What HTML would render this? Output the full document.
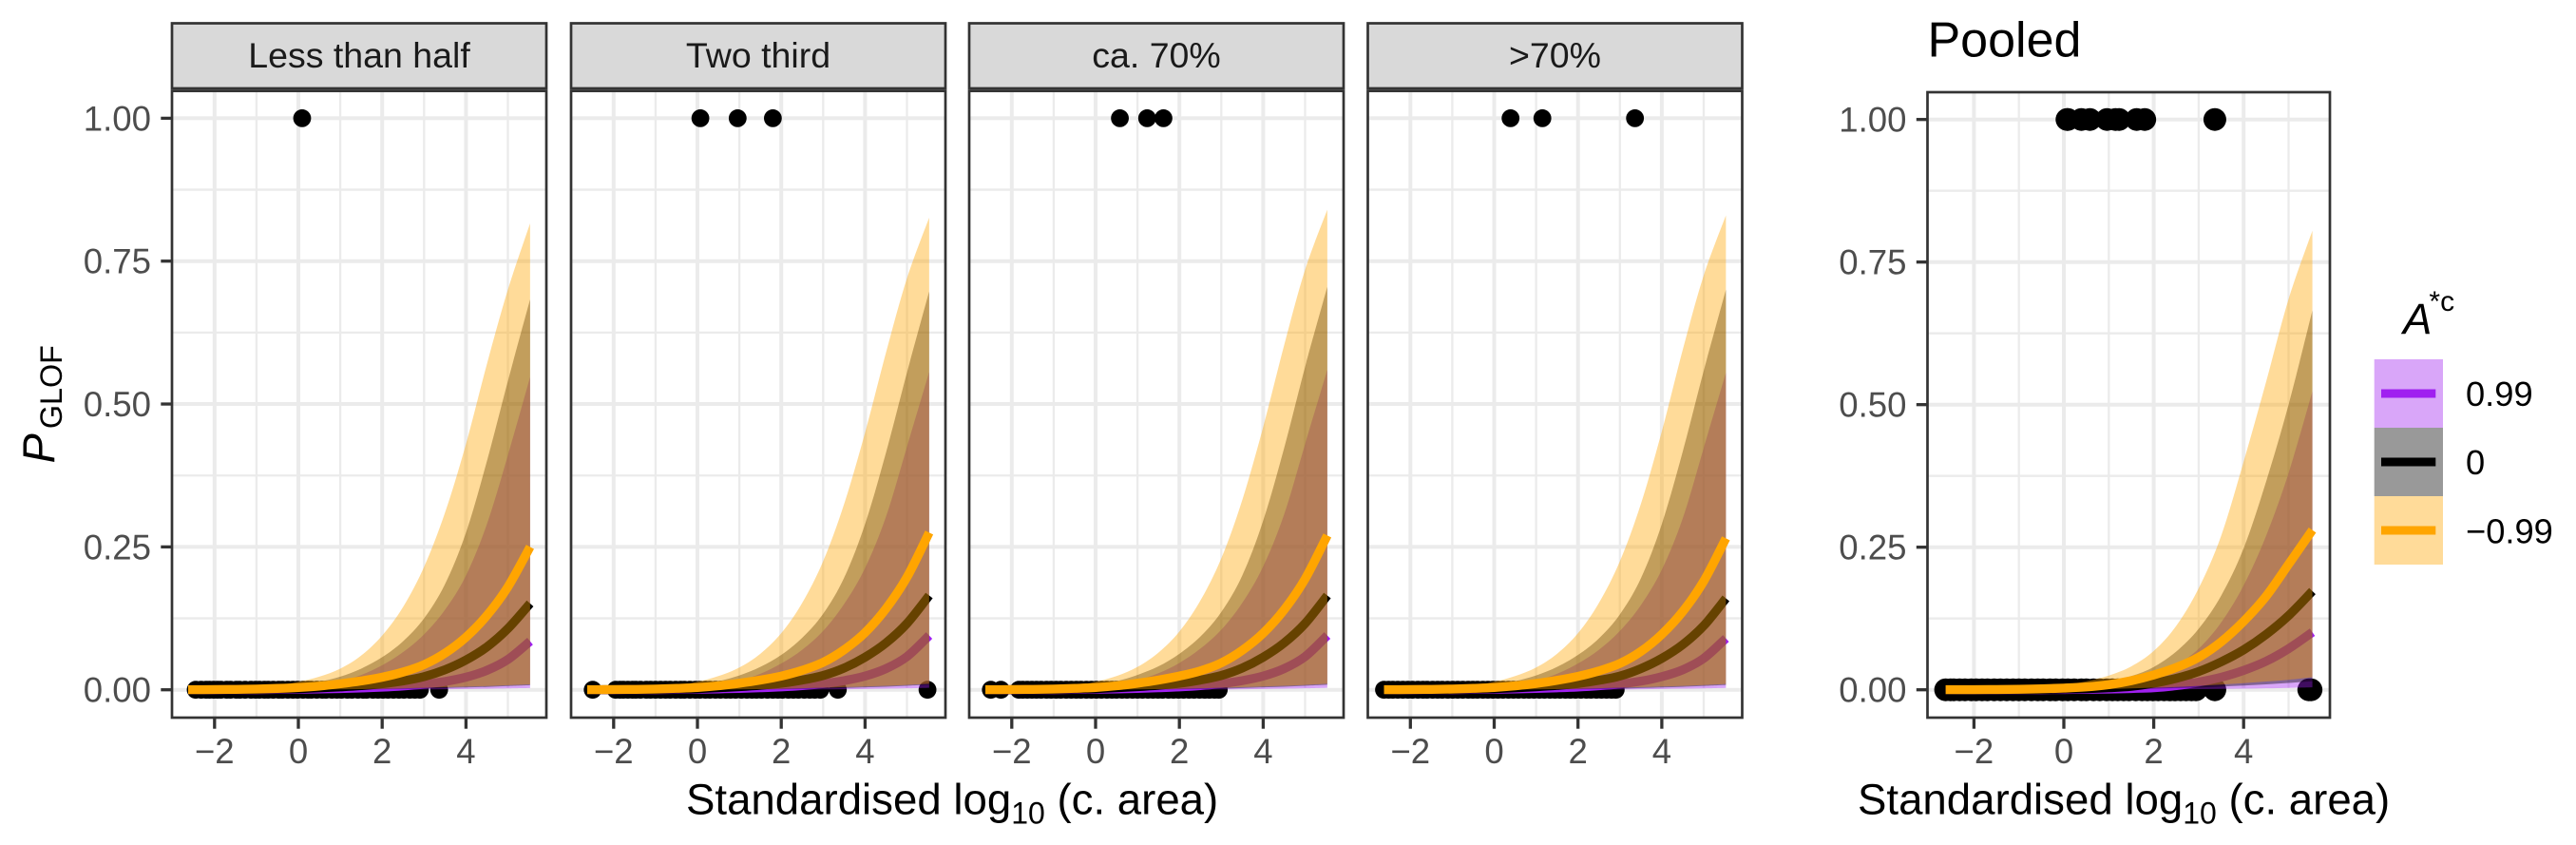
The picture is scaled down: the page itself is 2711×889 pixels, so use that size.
<!DOCTYPE html>
<html lang="en">
<head>
<meta charset="utf-8">
<title>GLOF probability by catchment area</title>
<style>
html,body{margin:0;padding:0;background:#fff;width:2711px;height:889px;overflow:hidden}
svg{display:block;font-family:"Liberation Sans",Arial,sans-serif}
</style>
</head>
<body>
<svg id="chart" width="2711" height="889" viewBox="0 0 2711 889" xmlns="http://www.w3.org/2000/svg">
  <rect x="0" y="0" width="2711" height="889" fill="#ffffff"/>
  <g id="panels"></g>

  <g>
    <rect x="181" y="24.5" width="394" height="68.5" fill="#d9d9d9" stroke="#333333" stroke-width="2.7"/>
    <text x="378" y="71" font-size="37.5" fill="#1a1a1a" text-anchor="middle">Less than half</text>
    <rect x="601" y="24.5" width="394" height="68.5" fill="#d9d9d9" stroke="#333333" stroke-width="2.7"/>
    <text x="798" y="71" font-size="37.5" fill="#1a1a1a" text-anchor="middle">Two third</text>
    <rect x="1020" y="24.5" width="394" height="68.5" fill="#d9d9d9" stroke="#333333" stroke-width="2.7"/>
    <text x="1217" y="71" font-size="37.5" fill="#1a1a1a" text-anchor="middle">ca. 70%</text>
    <rect x="1439.5" y="24.5" width="394" height="68.5" fill="#d9d9d9" stroke="#333333" stroke-width="2.7"/>
    <text x="1636.5" y="71" font-size="37.5" fill="#1a1a1a" text-anchor="middle">&gt;70%</text>
  </g>

  <text x="2028.5" y="59.5" font-size="52" fill="#000000">Pooled</text>

  <text transform="translate(57,487.5) rotate(-90)" fill="#000000"><tspan font-size="47" font-style="italic">P</tspan><tspan font-size="32.3" dx="5" dy="8">GLOF</tspan></text>

  <text x="722" y="856.5" font-size="45.6" fill="#000000">Standardised log<tspan font-size="32" dy="10">10</tspan><tspan dy="-10"> (c. area)</tspan></text>
  <text x="1955" y="856.5" font-size="45.6" fill="#000000">Standardised log<tspan font-size="32" dy="10">10</tspan><tspan dy="-10"> (c. area)</tspan></text>

  <g>
    <text x="2529" y="351" font-size="45.6" fill="#000000"><tspan font-style="italic">A</tspan><tspan font-size="30" dy="-24" dx="-3">*c</tspan></text>
    <rect x="2498.7" y="378" width="72.3" height="72" fill="#a020f0" fill-opacity="0.4"/>
    <line x1="2506" x2="2563.3" y1="414" y2="414" stroke="#a020f0" stroke-width="9"/>
    <text x="2595" y="427" font-size="36.3" fill="#000000">0.99</text>
    <rect x="2498.7" y="450" width="72.3" height="72" fill="#000000" fill-opacity="0.4"/>
    <line x1="2506" x2="2563.3" y1="486" y2="486" stroke="#000000" stroke-width="9"/>
    <text x="2595" y="499" font-size="36.3" fill="#000000">0</text>
    <rect x="2498.7" y="522" width="72.3" height="72" fill="#ffa500" fill-opacity="0.4"/>
    <line x1="2506" x2="2563.3" y1="558" y2="558" stroke="#ffa500" stroke-width="9"/>
    <text x="2595" y="571.5" font-size="36.3" fill="#000000">−0.99</text>
  </g>
</svg>

<script>
// ---- axis breaks and tick labels ----
const xMajorTicks = [-2, 0, 2, 4];
const xMinorBreaks = [-1, 1, 3, 5];
const xTickLabels = ['−2', '0', '2', '4'];
const yMajorTicks = [0, 0.25, 0.5, 0.75, 1];
const yMinorBreaks = [0.125, 0.375, 0.625, 0.875];
const yTickLabels = ['0.00', '0.25', '0.50', '0.75', '1.00'];

// ---- shared x values of the fitted curves ----
const curveX = [-2.63, -2, -1.5, -1, -0.5, 0, 0.5, 1, 1.5, 2, 2.5, 3, 3.5, 4, 4.5, 5, 5.53];

// ---- observed points (standardised log10 area), outcome = 1 ----
const lessThanHalfGlofX = [0.09];
const twoThirdGlofX = [0.07, 0.96, 1.8];
const ca70GlofX = [0.58, 1.23, 1.62];
const over70GlofX = [0.39, 1.15, 3.36];
const pooledGlofX = [0.07, 0.09, 0.39, 0.58, 0.96, 1.15, 1.23, 1.62, 1.8, 3.36];

// ---- observed points, outcome = 0 ----
const lessThanHalfNoGlofX = [-2.45, -2.32, -2.2, -2.12, -2.02, -1.93, -1.85, -1.71, -1.62, -1.48, -1.4, -1.27, -1.13, -1.02, -0.93, -0.81, -0.72, -0.6, -0.47, -0.38, -0.25, -0.13, -0.02, 0.11, 0.23, 0.31, 0.44, 0.57, 0.66, 0.8, 0.92, 1.03, 1.17, 1.28, 1.42, 1.55, 1.63, 1.78, 1.9, 2.02, 2.14, 2.27, 2.4, 2.52, 2.66, 2.78, 2.9, 3.36];
const twoThirdNoGlofX = [-2.5, -1.95, -1.85, -1.77, -1.66, -1.55, -1.47, -1.36, -1.22, -1.12, -1.0, -0.88, -0.76, -0.65, -0.52, -0.4, -0.31, -0.18, -0.05, 0.06, 0.19, 0.3, 0.43, 0.55, 0.68, 0.79, 0.91, 1.05, 1.18, 1.3, 1.41, 1.53, 1.67, 1.8, 1.92, 2.03, 2.17, 2.29, 2.41, 2.55, 2.68, 2.8, 2.93, 3.35, 5.49];
const ca70NoGlofX = [-2.5, -2.26, -1.83, -1.74, -1.63, -1.52, -1.41, -1.3, -1.17, -1.06, -0.94, -0.83, -0.7, -0.58, -0.46, -0.35, -0.22, -0.1, 0.02, 0.14, 0.27, 0.39, 0.5, 0.63, 0.75, 0.88, 1.0, 1.12, 1.25, 1.37, 1.49, 1.6, 1.74, 1.86, 1.98, 2.1, 2.23, 2.35, 2.48, 2.6, 2.72, 2.84, 2.94];
const over70NoGlofX = [-2.63, -2.52, -2.42, -2.3, -2.18, -2.06, -1.95, -1.82, -1.7, -1.6, -1.47, -1.35, -1.24, -1.11, -0.99, -0.87, -0.75, -0.62, -0.51, -0.4, -0.27, -0.15, -0.03, 0.09, 0.21, 0.34, 0.46, 0.58, 0.71, 0.83, 0.95, 1.08, 1.2, 1.33, 1.45, 1.57, 1.7, 1.82, 1.94, 2.07, 2.2, 2.31, 2.44, 2.56, 2.68, 2.8, 2.9];
const pooledNoGlofX = [-2.63, -2.52, -2.45, -2.32, -2.2, -2.06, -1.95, -1.82, -1.7, -1.55, -1.41, -1.27, -1.13, -1.0, -0.87, -0.72, -0.58, -0.46, -0.31, -0.18, -0.03, 0.09, 0.23, 0.39, 0.5, 0.66, 0.8, 0.95, 1.08, 1.2, 1.33, 1.45, 1.6, 1.74, 1.86, 1.98, 2.1, 2.23, 2.35, 2.48, 2.6, 2.72, 2.84, 2.94, 3.36, 5.45, 5.5];

// ---- panel 1: Less than half ----
const p1OrangeUpper = [0.0008, 0.0015, 0.0025, 0.004, 0.0075, 0.014, 0.023, 0.037, 0.06, 0.095, 0.145, 0.215, 0.31, 0.43, 0.57, 0.7, 0.816];
const p1OrangeLine = [0.0002, 0.0004, 0.0007, 0.0013, 0.0024, 0.004, 0.0065, 0.0105, 0.0155, 0.022, 0.031, 0.044, 0.064, 0.092, 0.13, 0.18, 0.25];
const p1OrangeLower = [0, 0, 0, 0, 0.0001, 0.0003, 0.0005, 0.0008, 0.0012, 0.0018, 0.0025, 0.0035, 0.0045, 0.0055, 0.0065, 0.008, 0.0095];
const p1BlackUpper = [0.0004, 0.0008, 0.0015, 0.0025, 0.0045, 0.008, 0.014, 0.023, 0.037, 0.057, 0.085, 0.125, 0.185, 0.275, 0.4, 0.54, 0.683];
const p1BlackLine = [0.0001, 0.0002, 0.0003, 0.0006, 0.0012, 0.002, 0.0033, 0.005, 0.0072, 0.0105, 0.0155, 0.023, 0.035, 0.052, 0.075, 0.107, 0.151];
const p1BlackLower = [0, 0, 0, 0, 0, 0.0001, 0.0002, 0.0004, 0.0007, 0.001, 0.0015, 0.002, 0.003, 0.004, 0.005, 0.0065, 0.008];
const p1PurpleUpper = [0.0002, 0.0004, 0.0007, 0.0012, 0.002, 0.004, 0.008, 0.015, 0.026, 0.043, 0.066, 0.097, 0.14, 0.2, 0.29, 0.41, 0.547];
const p1PurpleLine = [0.00005, 0.0001, 0.0002, 0.0003, 0.0006, 0.001, 0.0015, 0.0022, 0.0032, 0.0046, 0.0067, 0.0098, 0.0145, 0.022, 0.034, 0.053, 0.085];
const p1PurpleLower = [0, 0, 0, 0, 0, 0, 0, 0.0001, 0.0002, 0.0003, 0.0005, 0.0007, 0.001, 0.0014, 0.0018, 0.0024, 0.003];

// ---- panel 2: Two third ----
const p2OrangeUpper = [0.0008, 0.0015, 0.0025, 0.004, 0.0075, 0.014, 0.024, 0.039, 0.063, 0.099, 0.152, 0.225, 0.325, 0.45, 0.59, 0.72, 0.826];
const p2OrangeLine = [0.0002, 0.0004, 0.0007, 0.0013, 0.0025, 0.004, 0.007, 0.0115, 0.017, 0.024, 0.034, 0.048, 0.07, 0.1, 0.142, 0.197, 0.275];
const p2OrangeLower = [0, 0, 0, 0, 0.0001, 0.0003, 0.0005, 0.0008, 0.0012, 0.0018, 0.0026, 0.0036, 0.0047, 0.0058, 0.007, 0.0085, 0.0105];
const p2BlackUpper = [0.0004, 0.0008, 0.0015, 0.0025, 0.0045, 0.008, 0.015, 0.025, 0.04, 0.061, 0.091, 0.133, 0.196, 0.29, 0.415, 0.555, 0.697];
const p2BlackLine = [0.0001, 0.0002, 0.0003, 0.0006, 0.0012, 0.002, 0.0035, 0.0055, 0.008, 0.0115, 0.017, 0.025, 0.038, 0.057, 0.082, 0.116, 0.165];
const p2BlackLower = [0, 0, 0, 0, 0, 0.0001, 0.0002, 0.0004, 0.0007, 0.001, 0.0015, 0.002, 0.003, 0.0042, 0.0054, 0.007, 0.0088];
const p2PurpleUpper = [0.0002, 0.0004, 0.0007, 0.0012, 0.002, 0.004, 0.009, 0.016, 0.028, 0.046, 0.07, 0.103, 0.15, 0.213, 0.303, 0.425, 0.556];
const p2PurpleLine = [0.00005, 0.0001, 0.0002, 0.0003, 0.0006, 0.001, 0.0016, 0.0024, 0.0035, 0.005, 0.0073, 0.0108, 0.016, 0.024, 0.037, 0.058, 0.095];
const p2PurpleLower = [0, 0, 0, 0, 0, 0, 0, 0.0001, 0.0002, 0.0003, 0.0005, 0.0007, 0.001, 0.0014, 0.002, 0.0026, 0.0035];

// ---- panel 3: ca. 70% ----
const p3OrangeUpper = [0.0008, 0.0015, 0.0025, 0.004, 0.0075, 0.014, 0.024, 0.04, 0.065, 0.102, 0.156, 0.23, 0.332, 0.46, 0.603, 0.735, 0.84];
const p3OrangeLine = [0.0002, 0.0004, 0.0007, 0.0013, 0.0025, 0.004, 0.007, 0.0115, 0.017, 0.024, 0.033, 0.047, 0.069, 0.099, 0.14, 0.194, 0.27];
const p3OrangeLower = [0, 0, 0, 0, 0.0001, 0.0003, 0.0005, 0.0008, 0.0012, 0.0018, 0.0026, 0.0036, 0.0047, 0.0058, 0.007, 0.0085, 0.0105];
const p3BlackUpper = [0.0004, 0.0008, 0.0015, 0.0025, 0.0045, 0.008, 0.015, 0.026, 0.041, 0.063, 0.093, 0.136, 0.2, 0.296, 0.423, 0.565, 0.705];
const p3BlackLine = [0.0001, 0.0002, 0.0003, 0.0006, 0.0012, 0.002, 0.0035, 0.0055, 0.008, 0.0115, 0.017, 0.025, 0.038, 0.057, 0.082, 0.116, 0.165];
const p3BlackLower = [0, 0, 0, 0, 0, 0.0001, 0.0002, 0.0004, 0.0007, 0.001, 0.0015, 0.002, 0.003, 0.0042, 0.0054, 0.007, 0.0088];
const p3PurpleUpper = [0.0002, 0.0004, 0.0007, 0.0012, 0.002, 0.004, 0.009, 0.017, 0.029, 0.047, 0.072, 0.105, 0.152, 0.216, 0.307, 0.43, 0.56];
const p3PurpleLine = [0.00005, 0.0001, 0.0002, 0.0003, 0.0006, 0.001, 0.0016, 0.0024, 0.0035, 0.005, 0.0073, 0.0108, 0.016, 0.024, 0.037, 0.058, 0.095];
const p3PurpleLower = [0, 0, 0, 0, 0, 0, 0, 0.0001, 0.0002, 0.0003, 0.0005, 0.0007, 0.001, 0.0014, 0.002, 0.0026, 0.0035];

// ---- panel 4: >70% ----
const p4OrangeUpper = [0.0008, 0.0015, 0.0025, 0.004, 0.0075, 0.014, 0.024, 0.039, 0.063, 0.099, 0.152, 0.225, 0.325, 0.452, 0.595, 0.725, 0.83];
const p4OrangeLine = [0.0002, 0.0004, 0.0007, 0.0013, 0.0025, 0.004, 0.0068, 0.011, 0.0165, 0.0235, 0.033, 0.046, 0.067, 0.097, 0.137, 0.19, 0.265];
const p4OrangeLower = [0, 0, 0, 0, 0.0001, 0.0003, 0.0005, 0.0008, 0.0012, 0.0018, 0.0026, 0.0036, 0.0046, 0.0057, 0.0068, 0.0082, 0.01];
const p4BlackUpper = [0.0004, 0.0008, 0.0015, 0.0025, 0.0045, 0.008, 0.015, 0.025, 0.04, 0.061, 0.09, 0.132, 0.195, 0.29, 0.417, 0.558, 0.7];
const p4BlackLine = [0.0001, 0.0002, 0.0003, 0.0006, 0.0012, 0.002, 0.0034, 0.0053, 0.0077, 0.011, 0.0165, 0.024, 0.037, 0.055, 0.079, 0.112, 0.16];
const p4BlackLower = [0, 0, 0, 0, 0, 0.0001, 0.0002, 0.0004, 0.0007, 0.001, 0.0015, 0.002, 0.003, 0.0041, 0.0052, 0.0068, 0.0085];
const p4PurpleUpper = [0.0002, 0.0004, 0.0007, 0.0012, 0.002, 0.004, 0.009, 0.016, 0.028, 0.046, 0.07, 0.103, 0.148, 0.21, 0.3, 0.423, 0.555];
const p4PurpleLine = [0.00005, 0.0001, 0.0002, 0.0003, 0.0006, 0.001, 0.0015, 0.0023, 0.0034, 0.0048, 0.007, 0.0102, 0.015, 0.023, 0.035, 0.055, 0.09];
const p4PurpleLower = [0, 0, 0, 0, 0, 0, 0, 0.0001, 0.0002, 0.0003, 0.0005, 0.0007, 0.001, 0.0014, 0.0019, 0.0025, 0.0033];

// ---- panel 5: Pooled ----
const p5OrangeUpper = [0.0005, 0.001, 0.0015, 0.003, 0.006, 0.009, 0.015, 0.025, 0.041, 0.068, 0.112, 0.178, 0.27, 0.4, 0.54, 0.685, 0.805];
const p5OrangeLine = [0.0002, 0.0003, 0.0005, 0.0009, 0.0017, 0.003, 0.005, 0.009, 0.016, 0.026, 0.039, 0.057, 0.084, 0.12, 0.164, 0.22, 0.28];
const p5OrangeLower = [0, 0, 0, 0.0001, 0.0002, 0.0004, 0.0008, 0.0014, 0.0024, 0.0036, 0.005, 0.0068, 0.009, 0.0115, 0.0145, 0.0175, 0.022];
const p5BlackUpper = [0.0002, 0.0004, 0.0008, 0.0014, 0.0028, 0.005, 0.009, 0.015, 0.024, 0.04, 0.067, 0.107, 0.165, 0.248, 0.365, 0.5, 0.665];
const p5BlackLine = [0.0001, 0.0002, 0.0003, 0.0004, 0.0007, 0.0012, 0.002, 0.0035, 0.006, 0.0115, 0.02, 0.032, 0.049, 0.07, 0.097, 0.13, 0.173];
const p5BlackLower = [0, 0, 0, 0, 0.0001, 0.0002, 0.0004, 0.0007, 0.0012, 0.002, 0.003, 0.004, 0.0056, 0.0074, 0.0095, 0.012, 0.015];
const p5PurpleUpper = [0.0001, 0.0002, 0.0004, 0.0006, 0.0012, 0.002, 0.004, 0.008, 0.014, 0.025, 0.043, 0.072, 0.118, 0.183, 0.27, 0.38, 0.523];
const p5PurpleLine = [0.00005, 0.0001, 0.0001, 0.0002, 0.0003, 0.0005, 0.0008, 0.0013, 0.0022, 0.0036, 0.0072, 0.0135, 0.022, 0.034, 0.05, 0.072, 0.101];
const p5PurpleLower = [0, 0, 0, 0, 0, 0, 0.0001, 0.0002, 0.0003, 0.0005, 0.0008, 0.0011, 0.0015, 0.002, 0.0026, 0.0033, 0.0042];

// ---- layout (pixels, not data) ----
const NS = 'http://www.w3.org/2000/svg';
const panelRoot = document.getElementById('panels');

function svgEl(tag, parent) {
  const el = document.createElementNS(NS, tag);
  parent.appendChild(el);
  return el;
}

function makeXScale(originPx, pxPerUnit) {
  return function (v) { return originPx + v * pxPerUnit; };
}
function makeYScale(zeroPx, pxPerUnit) {
  return function (v) { return zeroPx - v * pxPerUnit; };
}

function smoothSegment(pts) {
  let d = '';
  for (let i = 0; i < pts.length - 1; i++) {
    const p0 = pts[Math.max(i - 1, 0)];
    const p1 = pts[i];
    const p2 = pts[i + 1];
    const p3 = pts[Math.min(i + 2, pts.length - 1)];
    const c1x = p1[0] + (p2[0] - p0[0]) / 6;
    const c1y = p1[1] + (p2[1] - p0[1]) / 6;
    const c2x = p2[0] - (p3[0] - p1[0]) / 6;
    const c2y = p2[1] - (p3[1] - p1[1]) / 6;
    d += 'C' + c1x.toFixed(2) + ' ' + c1y.toFixed(2) + ' ' + c2x.toFixed(2) + ' ' + c2y.toFixed(2) + ' ' + p2[0].toFixed(2) + ' ' + p2[1].toFixed(2);
  }
  return d;
}

function toPoints(xs, ys, sx, sy) {
  return xs.map(function (x, i) { return [sx(x), sy(ys[i])]; });
}

function drawSeries(group, sx, sy, colour, upper, line, lower) {
  const up = toPoints(curveX, upper, sx, sy);
  const lo = toPoints(curveX, lower, sx, sy).reverse();
  const ribbon = svgEl('path', group);
  
  
  ribbon.setAttribute('d', 'M' + up[0][0] + ' ' + up[0][1] + smoothSegment(up) + 'L' + lo[0][0] + ' ' + lo[0][1] + smoothSegment(lo) + 'Z');
  ribbon.setAttribute('fill', colour);
  ribbon.setAttribute('fill-opacity', '0.4');
  const mid = toPoints(curveX, line, sx, sy);
  const path = svgEl('path', group);
  
  
  path.setAttribute('d', 'M' + mid[0][0] + ' ' + mid[0][1] + smoothSegment(mid));
  path.setAttribute('fill', 'none');
  path.setAttribute('stroke', colour);
  path.setAttribute('stroke-width', '9.4');
  path.setAttribute('stroke-linejoin', 'round');
}

function drawPanel(cfg) {
  const g = svgEl('g', panelRoot);
  
  
  const sx = makeXScale(cfg.x0, cfg.xUnit);
  const sy = makeYScale(725.7, cfg.yUnit);

  const bg = svgEl('rect', g);
  
  
  bg.setAttribute('x', cfg.left);
  bg.setAttribute('y', cfg.top);
  bg.setAttribute('width', cfg.right - cfg.left);
  bg.setAttribute('height', cfg.bottom - cfg.top);
  bg.setAttribute('fill', '#ffffff');

  yMinorBreaks.forEach(function (v) {
    const l = svgEl('line', g);
    
    
    l.setAttribute('x1', cfg.left);
    l.setAttribute('x2', cfg.right);
    l.setAttribute('y1', sy(v));
    l.setAttribute('y2', sy(v));
    l.setAttribute('stroke', '#ebebeb');
    l.setAttribute('stroke-width', '2.3');
  });
  xMinorBreaks.forEach(function (v) {
    const l = svgEl('line', g);
    
    
    l.setAttribute('x1', sx(v));
    l.setAttribute('x2', sx(v));
    l.setAttribute('y1', cfg.top);
    l.setAttribute('y2', cfg.bottom);
    l.setAttribute('stroke', '#ebebeb');
    l.setAttribute('stroke-width', '2.3');
  });
  yMajorTicks.forEach(function (v) {
    const l = svgEl('line', g);
    
    
    l.setAttribute('x1', cfg.left);
    l.setAttribute('x2', cfg.right);
    l.setAttribute('y1', sy(v));
    l.setAttribute('y2', sy(v));
    l.setAttribute('stroke', '#ebebeb');
    l.setAttribute('stroke-width', '4');
  });
  xMajorTicks.forEach(function (v) {
    const l = svgEl('line', g);
    
    
    l.setAttribute('x1', sx(v));
    l.setAttribute('x2', sx(v));
    l.setAttribute('y1', cfg.top);
    l.setAttribute('y2', cfg.bottom);
    l.setAttribute('stroke', '#ebebeb');
    l.setAttribute('stroke-width', '4');
  });

  cfg.noGlof.forEach(function (v) {
    const c = svgEl('circle', g);
    
    
    c.setAttribute('cx', sx(v));
    c.setAttribute('cy', sy(0));
    c.setAttribute('r', cfg.dotR);
    c.setAttribute('fill', '#000000');
  });
  cfg.glof.forEach(function (v) {
    const c = svgEl('circle', g);
    
    
    c.setAttribute('cx', sx(v));
    c.setAttribute('cy', sy(1));
    c.setAttribute('r', cfg.dotR);
    c.setAttribute('fill', '#000000');
  });

  drawSeries(g, sx, sy, '#a020f0', cfg.purple[0], cfg.purple[1], cfg.purple[2]);
  drawSeries(g, sx, sy, '#000000', cfg.black[0], cfg.black[1], cfg.black[2]);
  drawSeries(g, sx, sy, '#ffa500', cfg.orange[0], cfg.orange[1], cfg.orange[2]);

  const border = svgEl('rect', g);
  
  
  border.setAttribute('x', cfg.left);
  border.setAttribute('y', cfg.top);
  border.setAttribute('width', cfg.right - cfg.left);
  border.setAttribute('height', cfg.bottom - cfg.top);
  border.setAttribute('fill', 'none');
  border.setAttribute('stroke', '#333333');
  border.setAttribute('stroke-width', '2.7');

  xMajorTicks.forEach(function (v, i) {
    const t = svgEl('line', g);
    
    
    t.setAttribute('x1', sx(v));
    t.setAttribute('x2', sx(v));
    t.setAttribute('y1', cfg.bottom);
    t.setAttribute('y2', cfg.bottom + 11.7);
    t.setAttribute('stroke', '#333333');
    t.setAttribute('stroke-width', '3.3');
    const lab = svgEl('text', g);
    
    
    lab.setAttribute('x', sx(v));
    lab.setAttribute('y', 803);
    lab.setAttribute('font-size', '36.6');
    lab.setAttribute('fill', '#4d4d4d');
    lab.setAttribute('text-anchor', 'middle');
    lab.textContent = xTickLabels[i];
  });

  if (cfg.yAxis) {
    yMajorTicks.forEach(function (v, i) {
      const t = svgEl('line', g);
      
      
      t.setAttribute('x1', cfg.left - 11.7);
      t.setAttribute('x2', cfg.left);
      t.setAttribute('y1', sy(v));
      t.setAttribute('y2', sy(v));
      t.setAttribute('stroke', '#333333');
      t.setAttribute('stroke-width', '3.3');
      const lab = svgEl('text', g);
      
      
      lab.setAttribute('x', cfg.left - 22);
      lab.setAttribute('y', sy(v) + 13);
      lab.setAttribute('font-size', '36.6');
      lab.setAttribute('fill', '#4d4d4d');
      lab.setAttribute('text-anchor', 'end');
      lab.textContent = yTickLabels[i];
    });
  }
}

drawPanel({ left: 181, right: 575, top: 95.7, bottom: 755, x0: 314, xUnit: 44.1, yUnit: 601.3, dotR: 9.4, yAxis: true,
  glof: lessThanHalfGlofX, noGlof: lessThanHalfNoGlofX,
  orange: [p1OrangeUpper, p1OrangeLine, p1OrangeLower], black: [p1BlackUpper, p1BlackLine, p1BlackLower], purple: [p1PurpleUpper, p1PurpleLine, p1PurpleLower] });
drawPanel({ left: 601, right: 995, top: 95.7, bottom: 755, x0: 734, xUnit: 44.1, yUnit: 601.3, dotR: 9.4, yAxis: false,
  glof: twoThirdGlofX, noGlof: twoThirdNoGlofX,
  orange: [p2OrangeUpper, p2OrangeLine, p2OrangeLower], black: [p2BlackUpper, p2BlackLine, p2BlackLower], purple: [p2PurpleUpper, p2PurpleLine, p2PurpleLower] });
drawPanel({ left: 1020, right: 1414, top: 95.7, bottom: 755, x0: 1153, xUnit: 44.1, yUnit: 601.3, dotR: 9.4, yAxis: false,
  glof: ca70GlofX, noGlof: ca70NoGlofX,
  orange: [p3OrangeUpper, p3OrangeLine, p3OrangeLower], black: [p3BlackUpper, p3BlackLine, p3BlackLower], purple: [p3PurpleUpper, p3PurpleLine, p3PurpleLower] });
drawPanel({ left: 1439.5, right: 1833.5, top: 95.7, bottom: 755, x0: 1572.5, xUnit: 44.1, yUnit: 601.3, dotR: 9.4, yAxis: false,
  glof: over70GlofX, noGlof: over70NoGlofX,
  orange: [p4OrangeUpper, p4OrangeLine, p4OrangeLower], black: [p4BlackUpper, p4BlackLine, p4BlackLower], purple: [p4PurpleUpper, p4PurpleLine, p4PurpleLower] });
drawPanel({ left: 2028.5, right: 2452, top: 97, bottom: 755, x0: 2172, xUnit: 47.3, yUnit: 600, dotR: 12, yAxis: true,
  glof: pooledGlofX, noGlof: pooledNoGlofX,
  orange: [p5OrangeUpper, p5OrangeLine, p5OrangeLower], black: [p5BlackUpper, p5BlackLine, p5BlackLower], purple: [p5PurpleUpper, p5PurpleLine, p5PurpleLower] });
</script>
</body>
</html>
